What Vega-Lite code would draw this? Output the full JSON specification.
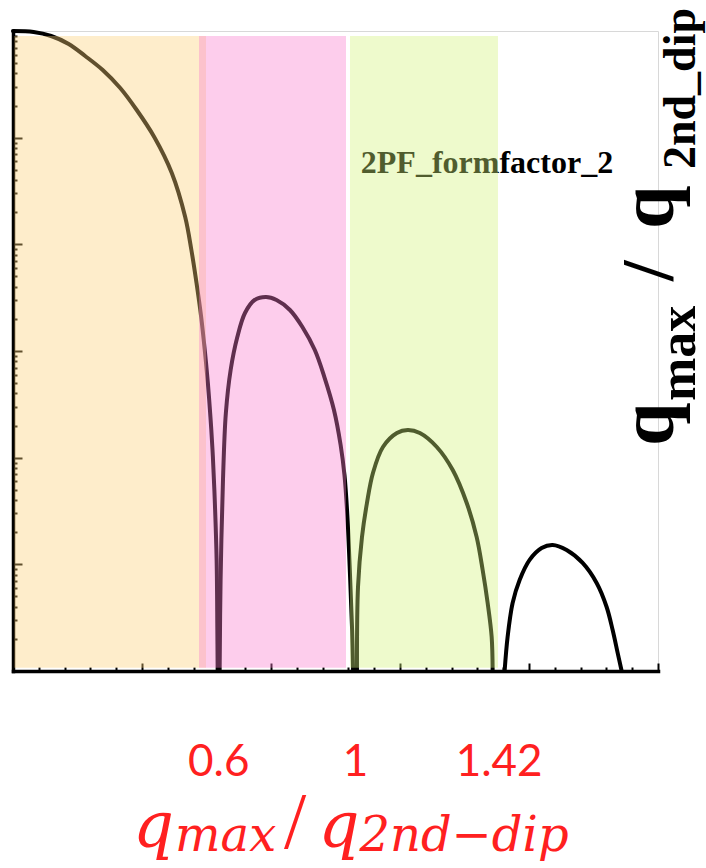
{
  "$schema": "https://vega.github.io/schema/vega-lite/v6.json",
  "width": 645,
  "height": 640,
  "autosize": {"type": "none"},
  "padding": {"left": 13, "top": 31, "right": 48, "bottom": 197},
  "background": "white",
  "config": {"view": {"stroke": "#d8d8d8", "strokeWidth": 1}},
  "datasets": {
    "curve": [
      {"lobe": 1, "x": 0, "y": 1},
      {"lobe": 1, "x": 0.0603, "y": 0.9786},
      {"lobe": 1, "x": 0.1115, "y": 0.8976},
      {"lobe": 1, "x": 0.1628, "y": 0.7554},
      {"lobe": 1, "x": 0.211, "y": 0.5829},
      {"lobe": 1, "x": 0.2623, "y": 0.431},
      {"lobe": 1, "x": 0.3135, "y": 0.2921},
      {"lobe": 1, "x": 0.3618, "y": 0.1817},
      {"lobe": 1, "x": 0.413, "y": 0.1015},
      {"lobe": 1, "x": 0.4643, "y": 0.04665},
      {"lobe": 1, "x": 0.5035, "y": 0.01804},
      {"lobe": 1, "x": 0.5216, "y": 0.00885},
      {"lobe": 1, "x": 0.5366, "y": 0.004339},
      {"lobe": 1, "x": 0.5502, "y": 0.002083},
      {"lobe": 1, "x": 0.5607, "y": 0.001021},
      {"lobe": 1, "x": 0.5698, "y": 0.000501},
      {"lobe": 1, "x": 0.5773, "y": 0.0002405},
      {"lobe": 1, "x": 0.5834, "y": 0.000118},
      {"lobe": 1, "x": 0.5888, "y": 0.0000498},
      {"lobe": 1, "x": 0.5954, "y": 0.000011},
      {"lobe": 1, "x": 0.5975, "y": 0.00000242},
      {"lobe": 1, "x": 0.5984, "y": 0.000001},
      {"lobe": 2, "x": 0.6042, "y": 0.000001},
      {"lobe": 2, "x": 0.607, "y": 0.00000713},
      {"lobe": 2, "x": 0.614, "y": 0.0000618},
      {"lobe": 2, "x": 0.6224, "y": 0.000262},
      {"lobe": 2, "x": 0.6364, "y": 0.000664},
      {"lobe": 2, "x": 0.6559, "y": 0.001352},
      {"lobe": 2, "x": 0.6783, "y": 0.002271},
      {"lobe": 2, "x": 0.7063, "y": 0.003006},
      {"lobe": 2, "x": 0.7399, "y": 0.003208},
      {"lobe": 2, "x": 0.7706, "y": 0.003006},
      {"lobe": 2, "x": 0.8098, "y": 0.002423},
      {"lobe": 2, "x": 0.8462, "y": 0.001679},
      {"lobe": 2, "x": 0.8825, "y": 0.001021},
      {"lobe": 2, "x": 0.9105, "y": 0.00057},
      {"lobe": 2, "x": 0.9385, "y": 0.00028},
      {"lobe": 2, "x": 0.958, "y": 0.0001315},
      {"lobe": 2, "x": 0.9692, "y": 0.0000688},
      {"lobe": 2, "x": 0.9776, "y": 0.000029},
      {"lobe": 2, "x": 0.986, "y": 0.00000713},
      {"lobe": 2, "x": 0.9916, "y": 0.00000242},
      {"lobe": 2, "x": 0.9944, "y": 0.000001},
      {"lobe": 3, "x": 1.0058, "y": 0.000001},
      {"lobe": 3, "x": 1.0088, "y": 0.00000613},
      {"lobe": 3, "x": 1.0204, "y": 0.000018},
      {"lobe": 3, "x": 1.035, "y": 0.0000376},
      {"lobe": 3, "x": 1.0525, "y": 0.0000718},
      {"lobe": 3, "x": 1.0817, "y": 0.0001259},
      {"lobe": 3, "x": 1.1225, "y": 0.0001703},
      {"lobe": 3, "x": 1.1546, "y": 0.0001817},
      {"lobe": 3, "x": 1.1896, "y": 0.0001703},
      {"lobe": 3, "x": 1.2392, "y": 0.0001259},
      {"lobe": 3, "x": 1.2858, "y": 0.0000766},
      {"lobe": 3, "x": 1.3267, "y": 0.0000376},
      {"lobe": 3, "x": 1.3558, "y": 0.000018},
      {"lobe": 3, "x": 1.3733, "y": 0.00000885},
      {"lobe": 3, "x": 1.3879, "y": 0.00000434},
      {"lobe": 3, "x": 1.3996, "y": 0.00000209},
      {"lobe": 3, "x": 1.4025, "y": 0.000001},
      {"lobe": 4, "x": 1.4375, "y": 0.000001},
      {"lobe": 4, "x": 1.4463, "y": 0.00000209},
      {"lobe": 4, "x": 1.4609, "y": 0.00000434},
      {"lobe": 4, "x": 1.4814, "y": 0.00000713},
      {"lobe": 4, "x": 1.5106, "y": 0.000011},
      {"lobe": 4, "x": 1.5457, "y": 0.0000142},
      {"lobe": 4, "x": 1.5779, "y": 0.0000152},
      {"lobe": 4, "x": 1.6188, "y": 0.0000136},
      {"lobe": 4, "x": 1.6656, "y": 0.0000103},
      {"lobe": 4, "x": 1.7066, "y": 0.00000668},
      {"lobe": 4, "x": 1.7358, "y": 0.00000398},
      {"lobe": 4, "x": 1.7534, "y": 0.00000242},
      {"lobe": 4, "x": 1.768, "y": 0.00000148},
      {"lobe": 4, "x": 1.7797, "y": 0.000001}
    ],
    "bands": [
      {"region": "below 0.6", "x0": 0.004, "x1": 0.5643, "y0": 0.00000107, "y1": 0.898},
      {"region": "0.6 to 1", "x0": 0.5439, "x1": 0.9737, "y0": 0.00000107, "y1": 0.898},
      {"region": "1 to 1.42", "x0": 0.9854, "x1": 1.4181, "y0": 0.00000107, "y1": 0.898}
    ],
    "anchor": [{}]
  },
  "resolve": {"axis": {"x": "independent", "y": "independent"}},
  "layer": [
    {
      "data": {"name": "curve"},
      "mark": {"type": "line", "color": "black", "strokeWidth": 4, "strokeCap": "round", "strokeJoin": "round", "interpolate": "catmull-rom"},
      "encoding": {
        "x": {
          "field": "x", "type": "quantitative",
          "scale": {"domain": [0, 1.886], "nice": false, "zero": false},
          "axis": {
            "orient": "bottom", "title": null, "labels": false, "grid": false,
            "values": [0, 0.3772, 0.7544, 1.1316, 1.5088, 1.886],
            "tickSize": -8, "tickWidth": 2, "tickColor": "black",
            "domainColor": "black", "domainWidth": 3.5, "domainCap": "square"
          }
        },
        "y": {
          "field": "y", "type": "quantitative",
          "scale": {"type": "log", "domain": [0.000001, 1], "nice": false},
          "axis": {
            "orient": "left", "title": null, "labels": false, "grid": false,
            "values": [1, 0.1, 0.01, 0.001, 0.0001, 0.00001, 0.000001],
            "tickSize": -9, "tickWidth": 2, "tickColor": "black",
            "domainColor": "black", "domainWidth": 3.5, "domainCap": "square"
          }
        },
        "detail": {"field": "lobe", "type": "nominal"}
      }
    },
    {
      "data": {"name": "anchor"},
      "mark": {"type": "text", "text": "2PF_formfactor_2", "font": "Liberation Serif", "fontWeight": "bold", "fontSize": 32, "color": "black", "align": "left", "baseline": "alphabetic"},
      "encoding": {
        "x": {
          "datum": 1.017, "type": "quantitative",
          "scale": {"domain": [0, 1.886], "nice": false, "zero": false},
          "axis": {
            "orient": "bottom", "title": null, "values": [0.6, 1, 1.42],
            "labelExpr": "format(datum.value, '~g')",
            "ticks": false, "domain": false, "grid": false,
            "labelColor": "#ff2020", "labelFont": "Lato", "labelFontSize": 44,
            "labelPadding": 104, "labelBaseline": "alphabetic", "labelAlign": "center",
            "labelFlush": false, "labelOverlap": false
          }
        },
        "y": {"datum": 0.0467, "type": "quantitative", "scale": {"type": "log", "domain": [0.000001, 1], "nice": false}, "axis": null}
      }
    },
    {
      "data": {"name": "bands"},
      "mark": {"type": "rect", "opacity": 0.38},
      "encoding": {
        "x": {
          "field": "x0", "type": "quantitative",
          "scale": {"domain": [0, 1.886], "nice": false, "zero": false},
          "axis": {
            "orient": "bottom", "title": null, "labels": false, "grid": false, "domain": false,
            "values": [0.0754, 0.1509, 0.2263, 0.3018, 0.4526, 0.5281, 0.6035, 0.679, 0.8298, 0.9053, 0.9807, 1.0562, 1.207, 1.2825, 1.3579, 1.4334, 1.5842, 1.6597, 1.7351, 1.8106],
            "tickSize": -4, "tickWidth": 2, "tickColor": "black"
          }
        },
        "x2": {"field": "x1"},
        "y": {
          "field": "y0", "type": "quantitative",
          "scale": {"type": "log", "domain": [0.000001, 1], "nice": false},
          "axis": {
            "orient": "left", "title": null, "labels": false, "grid": false, "domain": false,
            "values": [
              0.9, 0.8, 0.7, 0.6, 0.5, 0.4, 0.3, 0.2,
              0.09, 0.08, 0.07, 0.06, 0.05, 0.04, 0.03, 0.02,
              0.009, 0.008, 0.007, 0.006, 0.005, 0.004, 0.003, 0.002,
              0.0009, 0.0008, 0.0007, 0.0006, 0.0005, 0.0004, 0.0003, 0.0002,
              0.00009, 0.00008, 0.00007, 0.00006, 0.00005, 0.00004, 0.00003, 0.00002,
              0.000009, 0.000008, 0.000007, 0.000006, 0.000005, 0.000004, 0.000003, 0.000002
            ],
            "tickSize": -4, "tickWidth": 2, "tickColor": "black"
          }
        },
        "y2": {"field": "y1"},
        "color": {
          "field": "region", "type": "nominal", "legend": null,
          "scale": {"domain": ["below 0.6", "0.6 to 1", "1 to 1.42"], "range": ["#fcd076", "#fa7bcd", "#d2f279"]}
        }
      }
    },
    {
      "data": {"name": "anchor"},
      "mark": {"type": "text", "text": "q", "font": "DejaVu Serif", "fontStyle": "oblique", "fontSize": 64, "color": "#ff2020", "align": "left", "baseline": "alphabetic"},
      "encoding": {
        "x": {"datum": 0.3509, "type": "quantitative", "scale": {"domain": [0, 1.886], "nice": false, "zero": false}, "axis": null},
        "y": {"datum": 2.25e-8, "type": "quantitative", "scale": {"type": "log", "domain": [0.000001, 1], "nice": false}, "axis": null}
      }
    },
    {
      "data": {"name": "anchor"},
      "mark": {"type": "text", "text": "max", "font": "DejaVu Serif", "fontStyle": "oblique", "fontSize": 48, "color": "#ff2020", "align": "left", "baseline": "alphabetic"},
      "encoding": {
        "x": {"datum": 0.4737, "type": "quantitative", "scale": {"domain": [0, 1.886], "nice": false, "zero": false}, "axis": null},
        "y": {"datum": 2.05e-8, "type": "quantitative", "scale": {"type": "log", "domain": [0.000001, 1], "nice": false}, "axis": null}
      }
    },
    {
      "data": {"name": "anchor"},
      "mark": {"type": "text", "text": "/", "font": "Liberation Serif", "fontSize": 80, "color": "#ff2020", "align": "left", "baseline": "alphabetic"},
      "encoding": {
        "x": {"datum": 0.7924, "type": "quantitative", "scale": {"domain": [0, 1.886], "nice": false, "zero": false}, "axis": null},
        "y": {"datum": 2.17e-8, "type": "quantitative", "scale": {"type": "log", "domain": [0.000001, 1], "nice": false}, "axis": null}
      }
    },
    {
      "data": {"name": "anchor"},
      "mark": {"type": "text", "text": "q", "font": "DejaVu Serif", "fontStyle": "oblique", "fontSize": 64, "color": "#ff2020", "align": "left", "baseline": "alphabetic"},
      "encoding": {
        "x": {"datum": 0.893, "type": "quantitative", "scale": {"domain": [0, 1.886], "nice": false, "zero": false}, "axis": null},
        "y": {"datum": 2.25e-8, "type": "quantitative", "scale": {"type": "log", "domain": [0.000001, 1], "nice": false}, "axis": null}
      }
    },
    {
      "data": {"name": "anchor"},
      "mark": {"type": "text", "text": "2nd−dip", "font": "DejaVu Serif", "fontStyle": "oblique", "fontSize": 48, "color": "#ff2020", "align": "left", "baseline": "alphabetic"},
      "encoding": {
        "x": {"datum": 1.013, "type": "quantitative", "scale": {"domain": [0, 1.886], "nice": false, "zero": false}, "axis": null},
        "y": {"datum": 2.05e-8, "type": "quantitative", "scale": {"type": "log", "domain": [0.000001, 1], "nice": false}, "axis": null}
      }
    },
    {
      "data": {"name": "anchor"},
      "mark": {"type": "text", "text": "q", "font": "Liberation Serif", "fontWeight": "bold", "fontSize": 78, "color": "black", "align": "left", "baseline": "alphabetic", "angle": 270},
      "encoding": {
        "x": {"datum": 1.93, "type": "quantitative", "scale": {"domain": [0, 1.886], "nice": false, "zero": false}, "axis": null},
        "y": {"datum": 0.0001285, "type": "quantitative", "scale": {"type": "log", "domain": [0.000001, 1], "nice": false}, "axis": null}
      }
    },
    {
      "data": {"name": "anchor"},
      "mark": {"type": "text", "text": "max", "font": "Liberation Serif", "fontWeight": "bold", "fontSize": 52, "color": "black", "align": "left", "baseline": "alphabetic", "angle": 270},
      "encoding": {
        "x": {"datum": 1.994, "type": "quantitative", "scale": {"domain": [0, 1.886], "nice": false, "zero": false}, "axis": null},
        "y": {"datum": 0.00034, "type": "quantitative", "scale": {"type": "log", "domain": [0.000001, 1], "nice": false}, "axis": null}
      }
    },
    {
      "data": {"name": "anchor"},
      "mark": {"type": "text", "text": "/", "font": "Liberation Serif", "fontWeight": "bold", "fontSize": 74, "color": "black", "align": "left", "baseline": "alphabetic", "angle": 270},
      "encoding": {
        "x": {"datum": 1.93, "type": "quantitative", "scale": {"domain": [0, 1.886], "nice": false, "zero": false}, "axis": null},
        "y": {"datum": 0.00453, "type": "quantitative", "scale": {"type": "log", "domain": [0.000001, 1], "nice": false}, "axis": null}
      }
    },
    {
      "data": {"name": "anchor"},
      "mark": {"type": "text", "text": "q", "font": "Liberation Serif", "fontWeight": "bold", "fontSize": 78, "color": "black", "align": "left", "baseline": "alphabetic", "angle": 270},
      "encoding": {
        "x": {"datum": 1.93, "type": "quantitative", "scale": {"domain": [0, 1.886], "nice": false, "zero": false}, "axis": null},
        "y": {"datum": 0.01392, "type": "quantitative", "scale": {"type": "log", "domain": [0.000001, 1], "nice": false}, "axis": null}
      }
    },
    {
      "data": {"name": "anchor"},
      "mark": {"type": "text", "text": "2nd_dip", "font": "Liberation Serif", "fontWeight": "bold", "fontSize": 46, "color": "black", "align": "left", "baseline": "alphabetic", "angle": 270},
      "encoding": {
        "x": {"datum": 1.994, "type": "quantitative", "scale": {"domain": [0, 1.886], "nice": false, "zero": false}, "axis": null},
        "y": {"datum": 0.0508, "type": "quantitative", "scale": {"type": "log", "domain": [0.000001, 1], "nice": false}, "axis": null}
      }
    }
  ]
}
